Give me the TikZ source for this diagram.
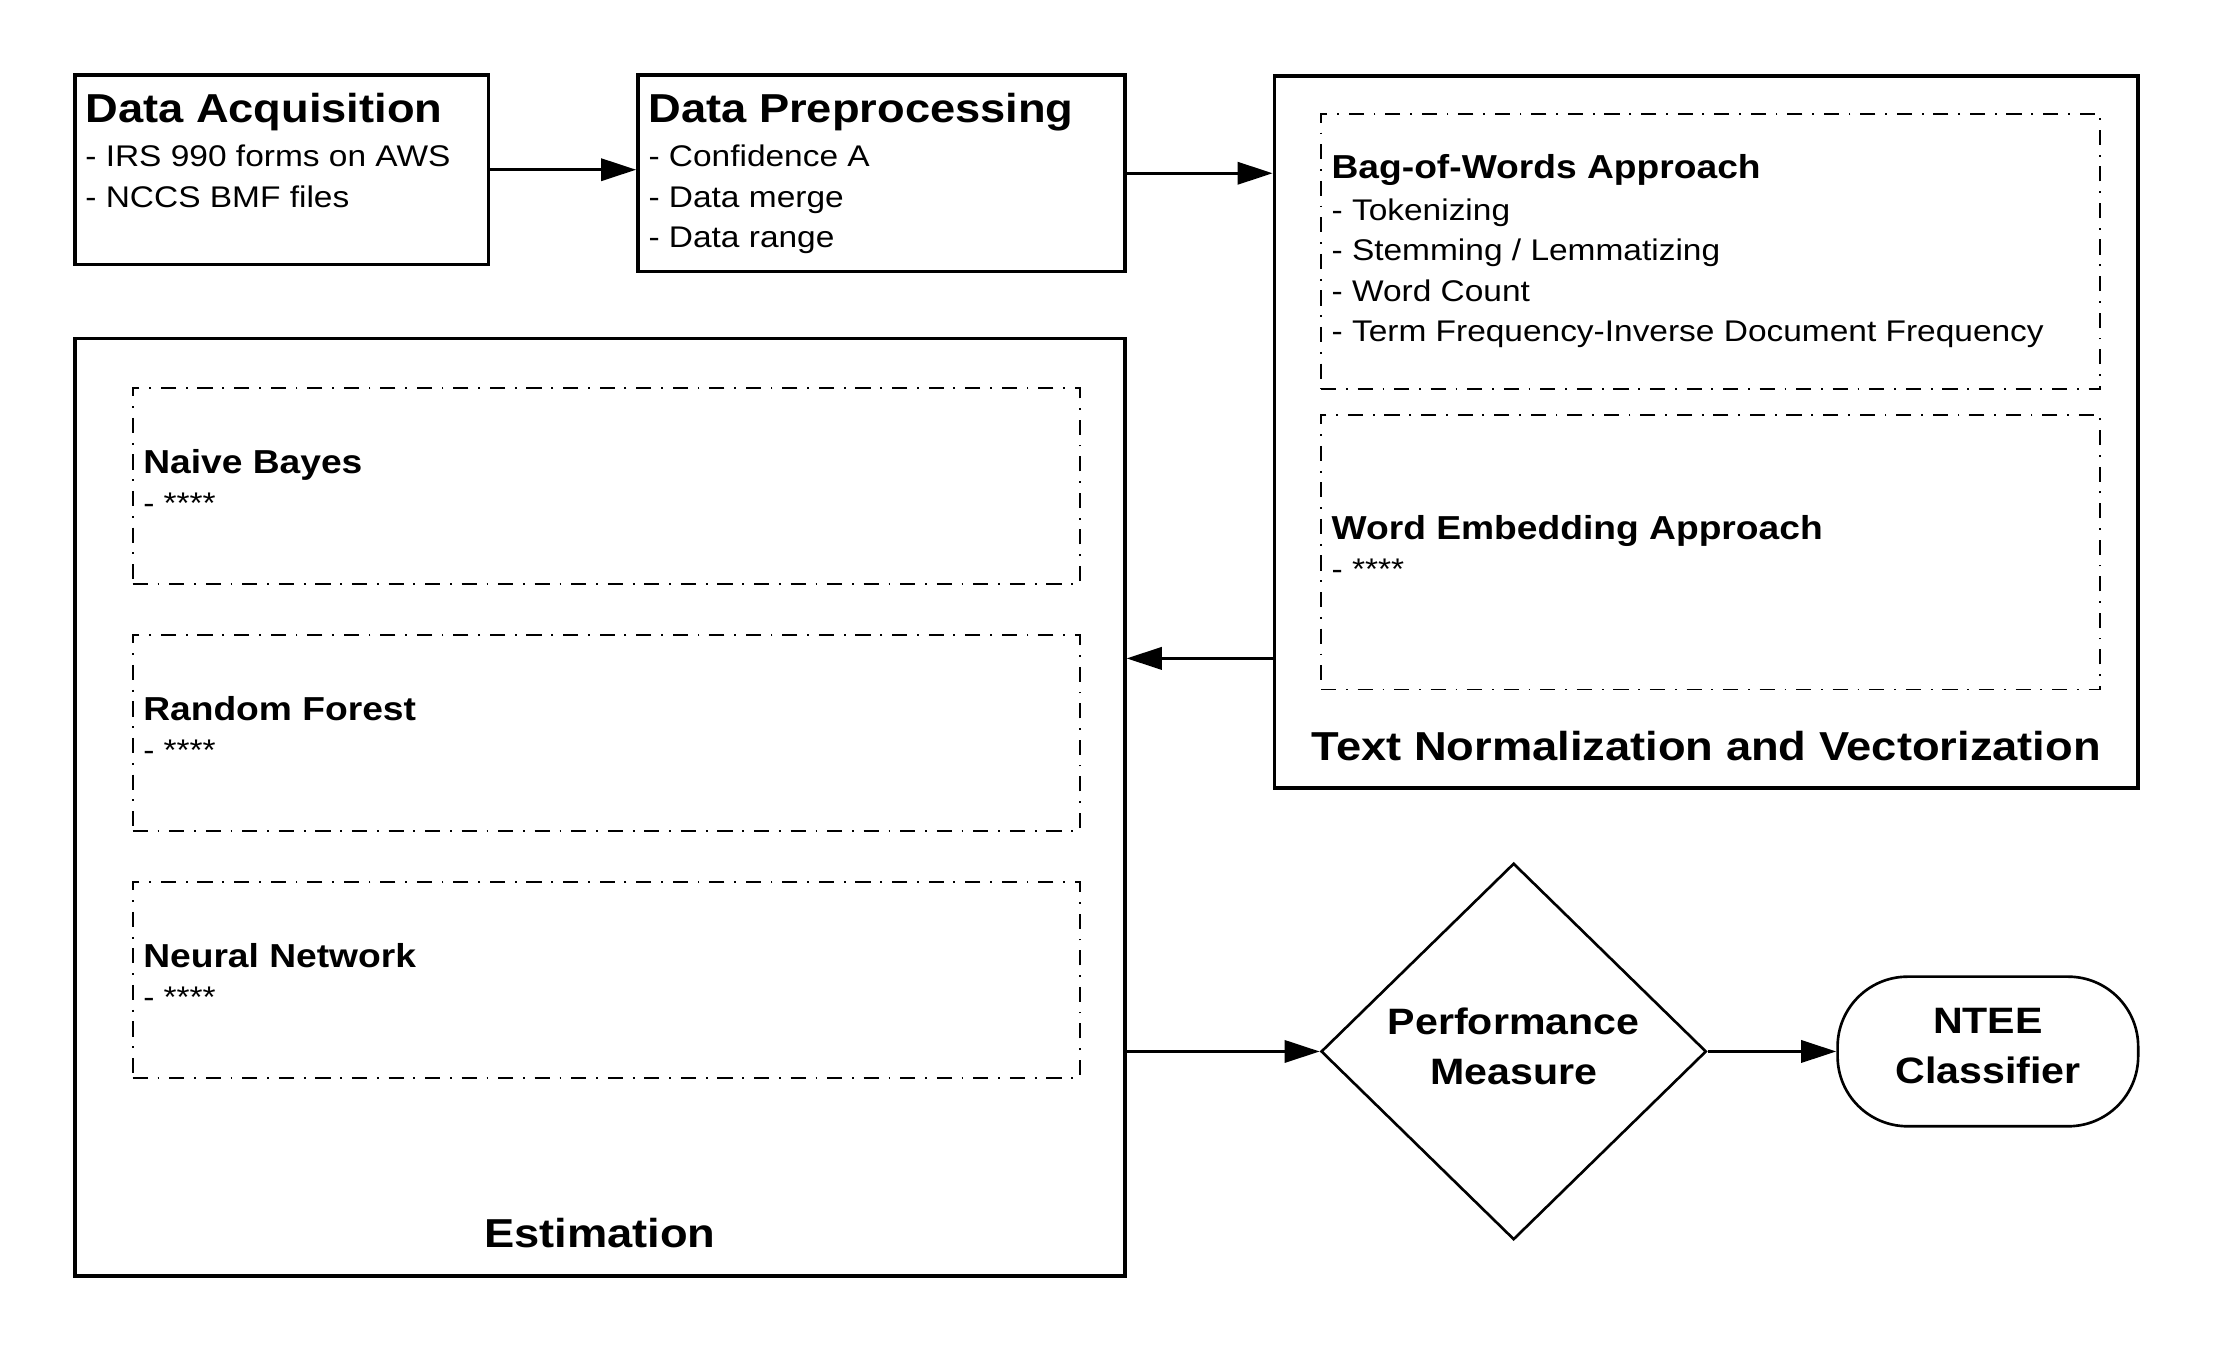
\documentclass[tikz,border=0pt]{standalone}
\usepackage{fontspec}
\setmainfont{Liberation Sans}[FakeStretch=1.12]
\usetikzlibrary{arrows.meta,shapes.geometric,fit}

\tikzstyle{block}= [rectangle,draw,black,line width=1pt,inner sep=0pt]
\tikzstyle{dashbox}= [rectangle,draw,black,line width=0.5pt,inner sep=0pt,dash pattern=on 4.3pt off 2.8pt on 0.5pt off 2.8pt]
\tikzstyle{heading}= [anchor=base west,inner sep=0pt,font=\fontsize{11.5}{13}\selectfont\bfseries]
\tikzstyle{subheading}= [anchor=base west,inner sep=0pt,font=\fontsize{9.45}{11}\selectfont\bfseries]
\tikzstyle{entry}= [anchor=base west,inner sep=0pt,font=\fontsize{8.5}{10}\selectfont]
\tikzstyle{decision}= [diamond,draw,black,line width=0.75pt,inner sep=0pt,minimum width=3.853cm,minimum height=3.765cm,align=center,text depth=3pt,font=\fontsize{10.45}{14.2}\selectfont\bfseries]
\tikzstyle{terminal}= [rectangle,draw,black,line width=0.75pt,inner sep=0pt,minimum width=3.006cm,minimum height=1.496cm,rounded corners=0.7cm,align=center,text depth=3pt,font=\fontsize{10.45}{14.2}\selectfont\bfseries]
\tikzstyle{flow}= [black,line width=0.9pt,-{Triangle[length=10pt,width=6.3pt]}]

\begin{document}
\begin{tikzpicture}[x=0.014113cm,y=-0.014113cm]
	\useasboundingbox (0,0) rectangle (1568,956.6);

		\node (acq) [block,fit={(53,53) (346,187.5)}] {};
		\node (acq-t) at (60,86.9) [heading] {Data Acquisition};
		\node (acq-1) at (60,118.1) [entry] {- IRS 990 forms on AWS};
		\node (acq-2) at (60,146.9) [entry] {- NCCS BMF files};

		\node (prep) [block,fit={(452,53) (797,192.5)}] {};
		\node (prep-t) at (459,86.9) [heading] {Data Preprocessing};
		\node (prep-1) at (459,118.1) [entry] {- Confidence A};
		\node (prep-2) at (459,146.9) [entry] {- Data merge};
		\node (prep-3) at (459,175.5) [entry] {- Data range};

		\node (tnv) [block,fit={(903,54) (1515,558.5)}] {};
		\node (tnv-t) at (1209,538.5) [heading,anchor=base] {Text Normalization and Vectorization};

		\node (bow) [dashbox,fit={(936,80.6) (1488,275.8)}] {};
		\node (bow-t) at (943,126.3) [subheading] {Bag-of-Words Approach};
		\node (bow-1) at (943,155.9) [entry] {- Tokenizing};
		\node (bow-2) at (943,184.6) [entry] {- Stemming / Lemmatizing};
		\node (bow-3) at (943,213.3) [entry] {- Word Count};
		\node (bow-4) at (943,242) [entry] {- Term Frequency-Inverse Document Frequency};

		\node (emb) [dashbox,fit={(936,293.8) (1488,488.5)}] {};
		\node (emb-t) at (943,382.1) [subheading] {Word Embedding Approach};
		\node (emb-1) at (943,410.8) [entry] {- ****};

		\node (est) [block,fit={(53,240) (797,904)}] {};
		\node (est-t) at (425,884) [heading,anchor=base] {Estimation};

		\node (nb) [dashbox,fit={(94,275) (765,414)}] {};
		\node (nb-t) at (101,335.4) [subheading] {Naive Bayes};
		\node (nb-1) at (101,364.1) [entry] {- ****};

		\node (rf) [dashbox,fit={(94,450) (765,589)}] {};
		\node (rf-t) at (101,510.4) [subheading] {Random Forest};
		\node (rf-1) at (101,539.1) [entry] {- ****};

		\node (nn) [dashbox,fit={(94,625) (765,764)}] {};
		\node (nn-t) at (101,685.4) [subheading] {Neural Network};
		\node (nn-1) at (101,714.1) [entry] {- ****};

		\node (perf) at (1072.5,745) [decision] {Performance\\Measure};
		\node (ntee) at (1408.5,745) [terminal] {NTEE\\Classifier};

		\coordinate (tnv-out) at (903,466.5);

		\draw[flow] (acq.east) -- (acq.east -| prep.west);
		\draw[flow] (prep.east) -- (prep.east -| tnv.west);
		\draw[flow] (tnv-out) -- (tnv-out -| est.east);
		\draw[flow] (perf.west -| est.east) -- (perf.west);
		\draw[flow] (perf.east) -- (ntee.west);

	\end{tikzpicture}
\end{document}
